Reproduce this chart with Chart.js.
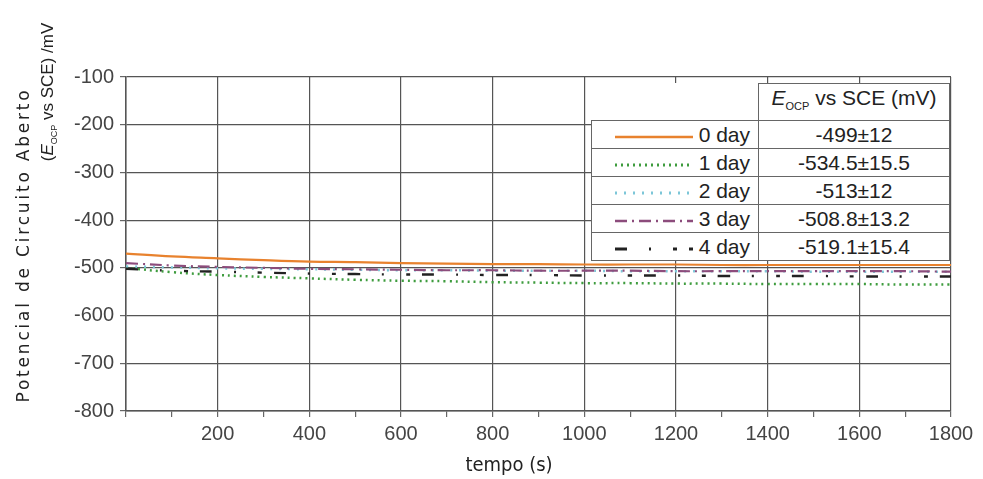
<!DOCTYPE html>
<html lang="pt">
<head>
<meta charset="UTF-8">
<title>Potencial de Circuito Aberto</title>
<script src="https://cdn.jsdelivr.net/npm/chart.js"></script>
<style>
  body { margin: 0; background: #fff; }
  #wrap { position: relative; width: 983px; height: 479px; }
  .ytitle { position: absolute; height: 24px; line-height: 24px; transform: rotate(-90deg); transform-origin: center; white-space: nowrap; color: #222; text-align: center; }
  #legend { position: absolute; left: 591px; top: 83px; border-collapse: collapse; font-family: "Liberation Sans", Arial, sans-serif; font-size: 21px; color: #222; background: #fff; }
  #legend td { border: 1.5px solid #666; padding: 0 6px; height: 27px; line-height: 27px; }
  #legend td.lbl { text-align: right; width: 152px; padding-right: 8px; white-space: nowrap; }
  #legend td.val { text-align: center; width: 178px; }
  #legend tr.head td.blank { border: none; background: transparent; }
  #legend svg { vertical-align: middle; margin-right: 6px; }
</style>
</head>
<body>
<div id="wrap">
  <canvas id="chart" width="983" height="479"></canvas>
  <div class="ytitle" style="left:-157px; top:233px; width:360px; font-family:'DejaVu Sans',sans-serif; font-size:17px; letter-spacing:2.8px;">Potencial de Circuito Aberto</div>
  <div class="ytitle" style="left:-52px; top:80px; width:200px; font-family:'Liberation Sans',Arial,sans-serif; font-size:17px;">(<i>E</i><sub style="font-size:9px">OCP</sub> vs SCE) /mV</div>
  <div style="position:absolute; left:409px; width:200px; top:452px; text-align:center; font-family:'DejaVu Sans Condensed','DejaVu Sans',sans-serif; font-size:20px; color:#222;">tempo (s)</div>
  <table id="legend"></table>
</div>
<script>
// data
var tempo = [0, 100, 200, 300, 400, 500, 600, 700, 800, 900, 1000, 1100, 1200, 1300, 1400, 1500, 1600, 1700, 1800];
var day0 = [-470, -476, -480, -484, -487, -488, -490, -491, -492, -492, -493, -493, -493, -494, -494, -494, -494, -494, -494];
var day1 = [-500, -509, -515, -519, -522, -525, -527, -528, -530, -531, -532, -532, -533, -533, -534, -534, -534, -535, -535];
var day2 = [-497, -499, -501, -502, -503, -504, -505, -505, -506, -506, -506, -507, -507, -507, -507, -508, -508, -508, -508];
var day3 = [-490, -495, -498, -500, -502, -503, -504, -505, -505, -506, -506, -506, -507, -507, -507, -507, -507, -507, -508];
var day4 = [-502, -506, -508, -510, -512, -513, -514, -514, -515, -515, -516, -516, -516, -517, -517, -517, -518, -518, -518];
var seriesNames = ['0 day', '1 day', '2 day', '3 day', '4 day'];
var eocpValues = ['-499±12', '-534.5±15.5', '-513±12', '-508.8±13.2', '-519.1±15.4'];

var styles = [
  { color: '#e8822e', dash: [], width: 2.2 },
  { color: '#3e9c3e', dash: [2, 4], width: 2.5 },
  { color: '#7cc6d8', dash: [2, 7], width: 2.5 },
  { color: '#8c4c7c', dash: [12, 5, 2, 5], width: 2.2 },
  { color: '#222222', dash: [12, 22, 2, 22, 4, 12], width: 2.4 }
];
var allData = [day0, day1, day2, day3, day4];

var datasets = allData.map(function (d, i) {
  return {
    label: seriesNames[i],
    data: d.map(function (v, k) { return { x: tempo[k], y: v }; }),
    borderColor: styles[i].color,
    borderWidth: styles[i].width,
    borderDash: styles[i].dash,
    pointRadius: 0,
    tension: 0.4,
    fill: false
  };
}).reverse();

var tickFont = { family: '"Liberation Sans", Arial, sans-serif', size: 20 };

new Chart(document.getElementById('chart'), {
  type: 'line',
  data: { datasets: datasets },
  options: {
    responsive: false,
    animation: false,
    layout: { padding: { top: 77, right: 32, left: 0, bottom: 0 } },
    plugins: { legend: { display: false }, tooltip: { enabled: false } },
    scales: {
      x: {
        type: 'linear', min: 0, max: 1800,
        ticks: {
          stepSize: 100, color: '#444', font: tickFont, maxRotation: 0, autoSkip: false, padding: 5,
          callback: function (v) { return (v % 200 === 0 && v !== 0) ? v : ''; }
        },
        grid: {
          color: function (c) { return c.tick && c.tick.value % 200 === 0 ? '#555' : 'rgba(0,0,0,0)'; },
          tickColor: '#666', tickLength: 6, lineWidth: 1.2
        },
        border: { color: '#555', width: 1.5 },
        afterFit: function (s) { s.height = 68; }
      },
      y: {
        min: -800, max: -100,
        ticks: {
          stepSize: 50, color: '#444', font: tickFont, padding: 6,
          callback: function (v) { return v % 100 === 0 ? v : ''; }
        },
        grid: {
          color: function (c) { return c.tick && c.tick.value % 100 === 0 ? '#555' : 'rgba(0,0,0,0)'; },
          tickColor: '#666', tickLength: 6, lineWidth: 1.2
        },
        border: { color: '#555', width: 1.5 },
        afterFit: function (s) { s.width = 126; }
      }
    }
  }
});

// legend table
function sample(st) {
  return '<svg width="78" height="10"><line x1="0" y1="5" x2="78" y2="5" stroke="' + st.color +
    '" stroke-width="' + (st.width + 0.5) + '" stroke-dasharray="' + (st.dash.length ? st.dash.join(',') : 'none') + '"/></svg>';
}
var html = '<tr class="head"><td class="blank"></td><td class="val"><i>E</i><sub style="font-size:11px">OCP</sub> vs SCE (mV)</td></tr>';
seriesNames.forEach(function (n, i) {
  html += '<tr><td class="lbl">' + sample(styles[i]) + n + '</td><td class="val">' + eocpValues[i] + '</td></tr>';
});
document.getElementById('legend').innerHTML = html;
</script>
</body>
</html>
